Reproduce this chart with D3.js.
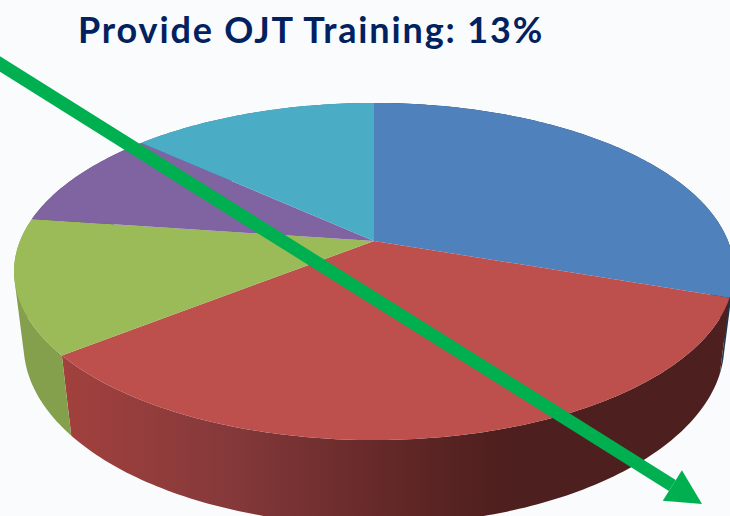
<!DOCTYPE html>
<html>
<head>
    <title>Provide OJT Training</title>
    <script src="https://d3js.org/d3.v7.min.js"></script>
    <style>
        html, body { margin: 0; padding: 0; background: #f9fbfd; overflow: hidden; }
        svg { display: block; }
    </style>
</head>
<body>
    <svg width="730" height="516"></svg>
    <script>
        var titleText = "Provide OJT Training: 13%";
        var sliceValues = [30.3, 34, 12.9, 9.6, 13.2];
        var topColors = ["#4f81bd", "#bd4f4c", "#9bbb59", "#8064a2", "#4bacc6"];
        var wallColors = ["#1f3552", null, "#84a04c", "#5b4774", "#327a8d"];
        // red wall darkens towards the right
        var redWallStops = [[0, "#a2413e"], [0.3, "#85393a"], [0.55, "#682a2a"], [0.78, "#4e1f1e"], [1, "#4d1f1e"]];

        var svg = d3.select("svg");
        var defs = svg.append("defs");

        // pie plane to screen, the top and the bottom ring have their own perspective
        var topRing = { cx: 374, cy: 241, bx: 354, by: 119.4, k: -0.181 };
        var bottomRing = { cx: 374, cy: 313.7, bx: 345, by: 120, k: -0.174 };

        function project(ring, a) {
            var x = Math.sin(a), y = -Math.cos(a);
            var w = 1 + ring.k * y;
            return [ring.cx + ring.bx * x / w, (ring.cy + ring.by * y) / w];
        }

        function arcPoints(ring, d) {
            var n = Math.ceil((d.endAngle - d.startAngle) * 60);
            return d3.range(n + 1).map(function(i) {
                return project(ring, d.startAngle + (d.endAngle - d.startAngle) * i / n);
            });
        }

        var pie = d3.pie().sort(null).value(function(d) { return d; });
        var slices = pie(sliceValues);
        var line = d3.line();

        // wall is a strip of quads, all wound the same way so the silhouette edges stay filled
        function wallPath(d) {
            var upper = arcPoints(topRing, d), lower = arcPoints(bottomRing, d);
            return d3.range(upper.length - 1).map(function(i) {
                var quad = [upper[i], upper[i + 1], lower[i + 1], lower[i]];
                if (d3.polygonArea(quad) < 0) quad.reverse();
                return line(quad) + "Z";
            }).join("");
        }

        var redGradient = defs.append("linearGradient")
            .attr("id", "redWall")
            .attr("gradientUnits", "userSpaceOnUse")
            .attr("x1", 62).attr("x2", 620).attr("y1", 0).attr("y2", 0);
        redGradient.selectAll("stop")
            .data(redWallStops)
            .enter().append("stop")
            .attr("offset", function(d) { return d[0]; })
            .attr("stop-color", function(d) { return d[1]; });

        svg.append("g")
            .selectAll("path")
            .data(slices)
            .enter().append("path")
            .attr("fill", function(d, i) { return wallColors[i] || "url(#redWall)"; })
            .attr("d", wallPath);

        svg.append("g")
            .selectAll("path")
            .data(slices)
            .enter().append("path")
            .attr("fill", function(d, i) { return topColors[i]; })
            .attr("d", function(d) {
                return line([[topRing.cx, topRing.cy]].concat(arcPoints(topRing, d))) + "Z";
            });

        svg.append("text")
            .attr("x", 78)
            .attr("y", 43)
            .attr("fill", "#02225f")
            .attr("font-family", "Lato, sans-serif")
            .attr("font-weight", "bold")
            .attr("font-size", "36px")
            .attr("letter-spacing", "1.85px")
            .text(titleText);

        // green arrow
        var arrowFrom = [-20, 51.5], arrowTo = [702, 504];
        var ang = Math.atan2(arrowTo[1] - arrowFrom[1], arrowTo[0] - arrowFrom[0]);
        var headLen = 35, headHalf = 18;
        var baseX = arrowTo[0] - headLen * Math.cos(ang), baseY = arrowTo[1] - headLen * Math.sin(ang);

        svg.append("line")
            .attr("x1", arrowFrom[0]).attr("y1", arrowFrom[1])
            .attr("x2", baseX).attr("y2", baseY)
            .attr("stroke", "#00b050")
            .attr("stroke-width", 13);

        svg.append("path")
            .attr("fill", "#00b050")
            .attr("d", line([
                arrowTo,
                [baseX - headHalf * Math.sin(ang), baseY + headHalf * Math.cos(ang)],
                [baseX + headHalf * Math.sin(ang), baseY - headHalf * Math.cos(ang)]
            ]) + "Z");
    </script>
</body>
</html>
